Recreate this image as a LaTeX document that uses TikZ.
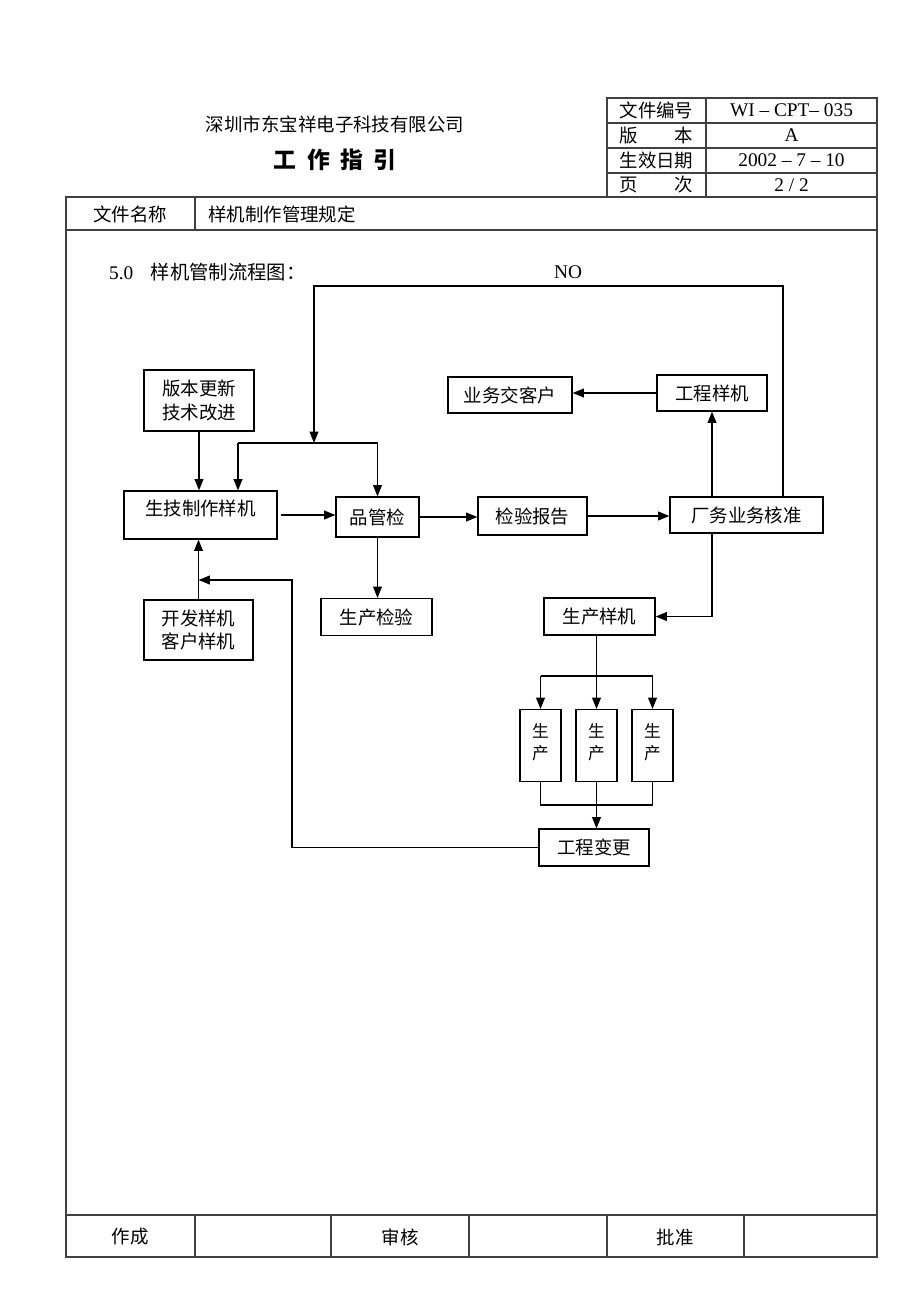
\documentclass[tikz,border=0pt]{standalone}
\usepackage{fontspec}
\setmainfont{Liberation Serif}
\newfontfamily\cjk{Noto Sans CJK SC}
\usetikzlibrary{arrows.meta}

\tikzset{
  box/.style={draw, line width=0.65pt, inner sep=0pt, align=center,
    font=\cjk\fontsize{10.5}{13.6}\selectfont},
  txt/.style={font=\cjk\fontsize{10.5}{13.6}\selectfont},
  lat/.style={font=\fontsize{11}{13}\selectfont},
  conn/.style={line width=0.9pt},
  arr/.style={line width=0.9pt, -{Triangle[length=6.5pt,width=5pt]}},
  frame/.style={line width=0.8pt, black!75},
}

\begin{document}
\begin{tikzpicture}[x=0.02cm, y=-0.02cm]
\useasboundingbox (0,0) rectangle (920,1302);

% header table
\draw[frame] (607,98) rectangle (877,197);
\draw[frame] (706,98) -- (706,197);
\foreach \y in {123,148,173} \draw[frame] (607,\y) -- (877,\y);
\node[txt] (h1) at (656.5,110.5) {文件编号};
\node[txt] (h2) at (656.5,135.5) {版\hspace{2em}本};
\node[txt] (h3) at (656.5,160.5) {生效日期};
\node[txt] (h4) at (656.5,185) {页\hspace{2em}次};
\node[lat] (v1) at (791.5,110.5) {WI -- CPT-- 035};
\node[lat] (v2) at (791.5,135.5) {A};
\node[lat] (v3) at (791.5,160.5) {2002 -- 7 -- 10};
\node[lat] (v4) at (791.5,185) {2 / 2};
\node[txt] (company) at (335,124) {深圳市东宝祥电子科技有限公司};
\node[font=\cjk\bfseries\fontsize{13}{15}\selectfont] (title) at (335,160)
  {工\hspace{0.45em}作\hspace{0.45em}指\hspace{0.45em}引};

% page frame
\draw[frame] (66,197) rectangle (877,1257);
\draw[frame] (66,230) -- (877,230);
\draw[frame] (195,197) -- (195,230);
\node[txt] (fname) at (130,214) {文件名称};
\node[txt, anchor=west] (fval) at (202,214) {样机制作管理规定};
\draw[frame] (66,1215) -- (877,1215);
\foreach \x in {195,331,469,607,744} \draw[frame] (\x,1215) -- (\x,1257);
\node[txt] (f1) at (130,1237) {作成};
\node[txt] (f2) at (400,1237) {审核};
\node[txt] (f3) at (675,1237) {批准};

% flow chart
\node[lat, anchor=west] (sec) at (103,272) {5.0\hspace{0.9em}{\cjk 样机管制流程图：}};
\node[lat] (no) at (568,272) {NO};

\node[box, minimum width=2.2cm, minimum height=1.22cm] (ver) at (199,400.5) {版本更新\\技术改进};
\node[box, minimum width=3.06cm, minimum height=0.96cm, text depth=0.3cm] (make) at (200.5,515) {生技制作样机};
\node[box, minimum width=1.66cm, minimum height=0.8cm] (qc) at (377.5,517) {品管检};
\node[box, minimum width=2.18cm, minimum height=0.76cm] (rep) at (532.5,516) {检验报告};
\node[box, minimum width=3.06cm, minimum height=0.72cm] (appr) at (746.5,515) {厂务业务核准};
\node[box, minimum width=2.2cm, minimum height=0.72cm] (eng) at (712,393) {工程样机};
\node[box, minimum width=2.48cm, minimum height=0.72cm] (cust) at (510,395) {业务交客户};
\node[box, minimum width=2.22cm, minimum height=0.74cm] (pinsp) at (376.5,617) {生产检验};
\node[box, minimum width=2.22cm, minimum height=0.74cm] (psamp) at (599.5,616.5) {生产样机};
\node[box, minimum width=2.18cm, minimum height=1.2cm] (dev) at (198.5,630) {开发样机\\客户样机};
\foreach \n/\x in {p1/540.5, p2/596.5, p3/652.5} {
  \node[box, minimum width=0.82cm, minimum height=1.44cm, anchor=north] (\n) at (\x,709) {};
  \node[txt, align=center, anchor=north, font=\cjk\fontsize{9.5}{12.5}\selectfont] (\n t) at (\x,717) {生\\产};
}
\node[box, minimum width=2.2cm, minimum height=0.74cm] (change) at (594,847.5) {工程变更};

\coordinate (forkl) at (238,443);
\coordinate (fork) at (314,443);
\coordinate (nor) at (783,286);
\coordinate (nol) at (314,286);
\coordinate (fb) at (292,580);
\coordinate (pf) at (596.5,676);
\coordinate (pj) at (596.5,805);

\draw[arr] (ver.south) -- (ver.south |- make.north);
\draw[conn] (forkl) -- (fork -| qc.north);
\draw[arr] (forkl) -- (forkl |- make.north);
\draw[arr] (fork -| qc.north) -- (qc.north);
\draw[arr] (appr.north -| nor) -- (nor) -- (nol) -- (fork);
\draw[arr] ([xshift=0.06cm]make.east) -- (make.east -| qc.west);
\draw[arr] (qc.east) -- (qc.east -| rep.west);
\draw[arr] (rep.east) -- (rep.east -| appr.west);
\draw[arr] (appr.north -| eng.south) -- (eng.south);
\draw[arr] (eng.west) -- (eng.west -| cust.east);
\draw[arr] (qc.south) -- (qc.south |- pinsp.north);
\draw[arr] (appr.south -| eng.south) |- (psamp.east);
\draw[arr] (dev.north) -- (dev.north |- make.south);
\draw[arr] (change.west) -| (fb) -- (fb -| dev.north);
\draw[conn] (psamp.south -| pf) -- (pf);
\draw[conn] (p1.north |- pf) -- (p3.north |- pf);
\foreach \n in {p1,p2,p3} \draw[arr] (\n.north |- pf) -- (\n.north);
\draw[conn] (p1.south) |- (pj) -| (p3.south);
\draw[arr] (p2.south) -- (p2.south |- change.north);
\end{tikzpicture}
\end{document}
